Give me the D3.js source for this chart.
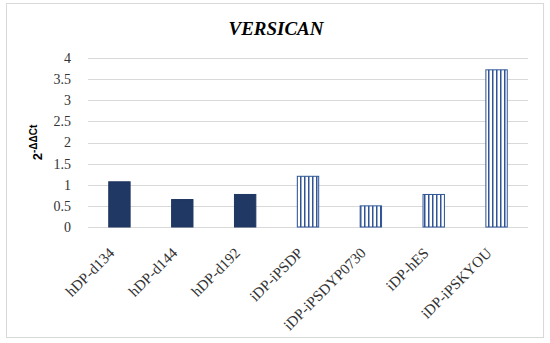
<!DOCTYPE html>
<html lang="en">
<head>
    <meta charset="UTF-8">
    <title>VERSICAN</title>
    <script src="https://d3js.org/d3.v7.min.js" charset="utf-8"></script>
    <style>
        body {
            margin: 0;
            background: white;
            font-family: "Liberation Serif", "DejaVu Serif", serif;
        }
    </style>
</head>
<body>
    <script>
        // chart values
        var categories = ["hDP-d134", "hDP-d144", "hDP-d192", "iDP-iPSDP", "iDP-iPSDYP0730", "iDP-hES", "iDP-iPSKYOU"];
        var values = [1.07, 0.65, 0.77, 1.2, 0.5, 0.77, 3.72];
        var striped = [false, false, false, true, true, true, true];
        var yTicks = [0, 0.5, 1, 1.5, 2, 2.5, 3, 3.5, 4];

        var width = 550;
        var height = 343;
        var margin = {left: 88, right: 22, top: 58, bottom: 116};

        var svg = d3.select("body")
                    .append("svg")
                    .attr("width", width)
                    .attr("height", height);

        // stripe pattern for the iDP bars
        var pat = svg.append("defs").append("pattern")
            .attr("id", "stripes")
            .attr("patternUnits", "userSpaceOnUse")
            .attr("width", 4)
            .attr("height", 10);
        pat.append("rect").attr("width", 4).attr("height", 10).attr("fill", "white");
        pat.append("line")
            .attr("x1", 0.75).attr("x2", 0.75)
            .attr("y1", 0).attr("y2", 10)
            .attr("stroke", "#2f5597")
            .attr("stroke-width", 1.5);

        // outer border
        svg.append("rect")
            .attr("x", 6.5).attr("y", 3.5)
            .attr("width", 537).attr("height", 334)
            .attr("fill", "white")
            .attr("stroke", "#d9d9d9");

        var x = d3.scaleBand()
            .domain(categories)
            .range([margin.left, width - margin.right])
            .paddingInner(0.66)
            .paddingOuter(0.33);

        var y = d3.scaleLinear()
            .domain([0, 4])
            .range([height - margin.bottom, margin.top]);

        // gridlines
        svg.append("g")
            .selectAll("line")
            .data(yTicks)
            .enter()
            .append("line")
            .attr("x1", margin.left)
            .attr("x2", width - margin.right)
            .attr("y1", function (d) { return Math.round(y(d)) + 0.5; })
            .attr("y2", function (d) { return Math.round(y(d)) + 0.5; })
            .attr("stroke", "#d9d9d9")
            .attr("stroke-width", 1);

        // y tick labels
        svg.append("g")
            .selectAll("text")
            .data(yTicks)
            .enter()
            .append("text")
            .attr("x", margin.left - 17)
            .attr("y", function (d) { return y(d); })
            .attr("dy", "0.35em")
            .attr("text-anchor", "end")
            .attr("font-size", 14)
            .attr("fill", "#333")
            .text(function (d) { return d; });

        // bars
        svg.append("g")
            .selectAll("rect")
            .data(categories)
            .enter()
            .append("rect")
            .attr("x", function (d) { return x(d); })
            .attr("y", function (d, i) { return y(values[i]); })
            .attr("width", x.bandwidth())
            .attr("height", function (d, i) { return y(0) - y(values[i]); })
            .attr("fill", function (d, i) { return striped[i] ? "url(#stripes)" : "#203864"; })
            .attr("stroke", function (d, i) { return striped[i] ? "#2f5597" : "#1f3660"; })
            .attr("stroke-width", 1);

        // x labels, rotated
        svg.append("g")
            .selectAll("text")
            .data(categories)
            .enter()
            .append("text")
            .attr("transform", function (d) {
                var cx = x(d) + x.bandwidth() / 2 - 4;
                return "translate(" + cx + "," + (y(0) + 27) + ") rotate(-45)";
            })
            .attr("text-anchor", "end")
            .attr("font-size", 15)
            .attr("fill", "#333")
            .text(function (d) { return d; });

        // title
        svg.append("text")
            .attr("x", 276)
            .attr("y", 35)
            .attr("text-anchor", "middle")
            .attr("font-family", "'Liberation Serif', 'DejaVu Serif', serif")
            .attr("font-size", 19)
            .attr("font-weight", "bold")
            .attr("font-style", "italic")
            .attr("fill", "#000")
            .text("VERSICAN");

        // y axis label 2^-ΔΔCt
        var yl = svg.append("text")
            .attr("transform", "translate(42," + ((y(0) + y(4)) / 2) + ") rotate(-90)")
            .attr("text-anchor", "middle")
            .attr("font-family", "'Liberation Sans', Arial, sans-serif")
            .attr("font-weight", "bold")
            .attr("font-size", 13)
            .attr("fill", "#000");
        yl.append("tspan").text("2");
        yl.append("tspan").attr("dy", -5).attr("font-size", 10).text("-ΔΔCt");
    </script>
</body>
</html>
